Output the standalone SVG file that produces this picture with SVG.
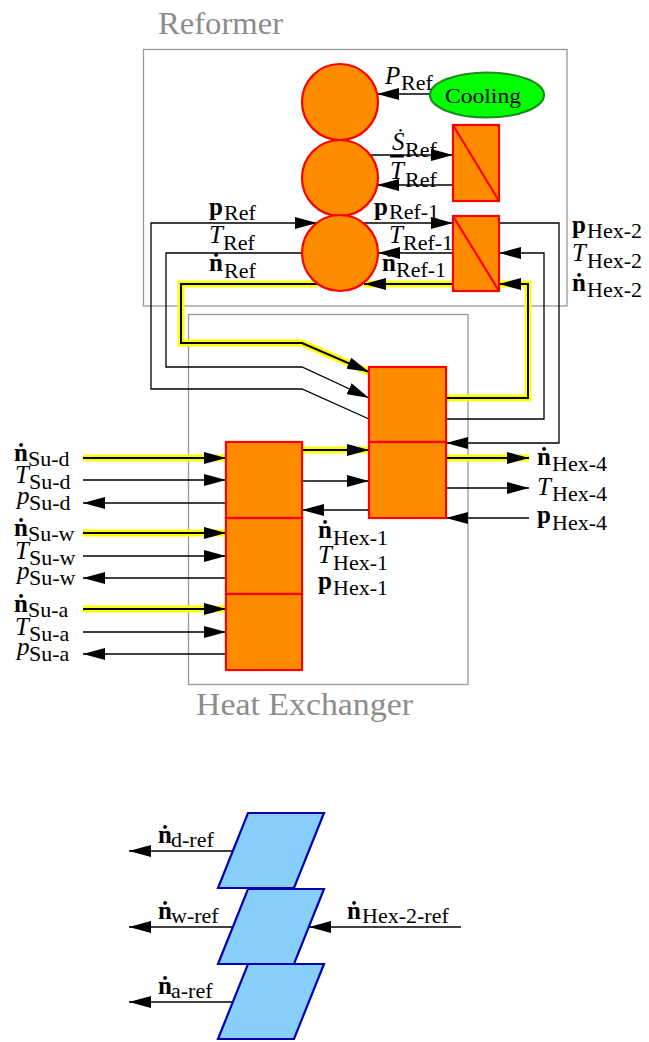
<svg xmlns="http://www.w3.org/2000/svg" width="649" height="1042" viewBox="0 0 649 1042">
<defs>
<marker id="ah" viewBox="0 0 22 12" markerWidth="22" markerHeight="12" refX="22" refY="6" orient="auto" markerUnits="userSpaceOnUse"><path d="M0,0 L22,6 L0,12 z" fill="#000"/></marker>
<style>
.frame{fill:none;stroke:#999;stroke-width:1.3}
.title{font-family:"Liberation Serif","DejaVu Serif",serif;font-size:31px;fill:#8c8c8c}
.ca{fill:none;stroke:#000;stroke-width:1.3;marker-end:url(#ah)}
.hl{fill:none;stroke:#ffff00;stroke-width:7}
.hb{fill:none;stroke:#000;stroke-width:2;marker-end:url(#ah)}
.orange{fill:#ff8c00;stroke:#ff0000;stroke-width:2.2}
.diag{stroke:#ff0000;stroke-width:2.2}
.cool{fill:#00ff00;stroke:#1e8c1e;stroke-width:2.2}
.blue{fill:#87cefa;stroke:#0000b4;stroke-width:2.2}
.t{font-family:"Liberation Serif","DejaVu Serif",serif;font-size:25px;fill:#000}
.i{font-style:italic}
.b{font-weight:bold}
.s{font-size:22px;font-style:normal;font-weight:normal}
</style>
</defs>
<rect width="649" height="1042" fill="#fff"/>
<g id="frames">
<rect class="frame" x="143.5" y="49.5" width="423.5" height="256.5"/>
<text class="title" x="158" y="34" textLength="125" lengthAdjust="spacingAndGlyphs">Reformer</text>
<rect class="frame" x="188.5" y="314.5" width="279.5" height="370"/>
<text class="title" x="196" y="715" textLength="217" lengthAdjust="spacingAndGlyphs">Heat Exchanger</text>
</g>
<g id="connectors">
<path class="hl" d="M318,284 L181,284 L181,343 L302,343 L369,372"/>
<path class="hl" d="M453,284 L364,284"/>
<path class="hl" d="M446,398 L528,398 L528,284 L499,284"/>
<path class="hl" d="M302,450 L369,450"/>
<path class="hl" d="M446,458 L529,458"/>
<path class="hl" d="M83,458 L226,458"/>
<path class="hl" d="M83,533 L226,533"/>
<path class="hl" d="M83,609 L226,609"/>
<path class="hb" d="M318,284 L181,284 L181,343 L302,343 L369,372"/>
<path class="hb" d="M453,284 L364,284"/>
<path class="hb" d="M446,398 L528,398 L528,284 L499,284"/>
<path class="hb" d="M302,450 L369,450"/>
<path class="hb" d="M446,458 L529,458"/>
<path class="hb" d="M83,458 L226,458"/>
<path class="hb" d="M83,533 L226,533"/>
<path class="hb" d="M83,609 L226,609"/>
<path class="ca" d="M430,94 L377,94"/>
<path class="ca" d="M340,155 L453,155"/>
<path class="ca" d="M453,185 L377,185"/>
<path class="ca" d="M340,223 L453,223"/>
<path class="ca" d="M453,253 L378,253"/>
<path class="ca" d="M369,419 L302,389 L151,389 L151,223 L317,223"/>
<path class="ca" d="M302,253 L166,253 L166,367 L302,367 L369,398"/>
<path class="ca" d="M499,223 L559,223 L559,443 L446,443"/>
<path class="ca" d="M446,419 L544,419 L544,253 L499,253"/>
<path class="ca" d="M302,481 L369,481"/>
<path class="ca" d="M369,510 L302,510"/>
<path class="ca" d="M446,488 L529,488"/>
<path class="ca" d="M529,518 L446,518"/>
<path class="ca" d="M83,480 L226,480"/>
<path class="ca" d="M226,503 L83,503"/>
<path class="ca" d="M83,556 L226,556"/>
<path class="ca" d="M226,578 L83,578"/>
<path class="ca" d="M83,632 L226,632"/>
<path class="ca" d="M226,654 L83,654"/>
<path class="ca" d="M233,851 L129,851"/>
<path class="ca" d="M233,927 L129,927"/>
<path class="ca" d="M233,1002 L129,1002"/>
<path class="ca" d="M461,927 L309,927"/>
</g>
<g id="ref-top"><circle class="orange" cx="340" cy="102" r="38"/></g>
<g id="ref-mid"><circle class="orange" cx="340" cy="178" r="38"/></g>
<g id="ref-bot"><circle class="orange" cx="340" cy="253" r="38"/></g>
<g id="cooling"><ellipse class="cool" cx="487" cy="95" rx="57" ry="22.5"/><text class="t" x="445" y="103" textLength="76" lengthAdjust="spacingAndGlyphs" style="font-size:22px">Cooling</text></g>
<g id="ref-hex-1"><rect class="orange" x="453" y="125" width="46" height="76"/><line class="diag" x1="453" y1="125" x2="499" y2="201"/></g>
<g id="ref-hex-2"><rect class="orange" x="453" y="216" width="46" height="75"/><line class="diag" x1="453" y1="216" x2="499" y2="291"/></g>
<g id="hex-r-top"><rect class="orange" x="369" y="367" width="77" height="75"/></g>
<g id="hex-r-bot"><rect class="orange" x="369" y="442" width="77" height="76"/></g>
<g id="hex-l-d"><rect class="orange" x="226" y="442" width="76" height="76"/></g>
<g id="hex-l-w"><rect class="orange" x="226" y="518" width="76" height="76"/></g>
<g id="hex-l-a"><rect class="orange" x="226" y="594" width="76" height="76"/></g>
<g id="mix-d"><polygon class="blue" points="248,813 324,813 294,888 218,888"/></g>
<g id="mix-w"><polygon class="blue" points="248,889 324,889 294,964 218,964"/></g>
<g id="mix-a"><polygon class="blue" points="248,964 324,964 294,1039 218,1039"/></g>
<g id="labels" class="t">
<text><tspan class="i" x="385" y="84">P</tspan><tspan class="s" x="401" y="90">Ref</tspan></text>
<text><tspan class="i" x="392" y="150">Ṡ</tspan><tspan class="s" x="405" y="157">Ref</tspan></text>
<text><tspan class="i" x="390" y="179" text-decoration="overline">T</tspan><tspan class="s" x="405" y="187">Ref</tspan></text>
<text><tspan class="b" x="374" y="215">p</tspan><tspan class="s" x="389" y="219">Ref-1</tspan></text>
<text><tspan class="i" x="389" y="243">T</tspan><tspan class="s" x="403" y="250">Ref-1</tspan></text>
<text><tspan class="b" x="382" y="271">ṅ</tspan><tspan class="s" x="396" y="277">Ref-1</tspan></text>
<text><tspan class="b" x="209" y="215">p</tspan><tspan class="s" x="224" y="220">Ref</tspan></text>
<text><tspan class="i" x="209" y="243">T</tspan><tspan class="s" x="223" y="250">Ref</tspan></text>
<text><tspan class="b" x="209" y="271">ṅ</tspan><tspan class="s" x="224" y="278">Ref</tspan></text>
<text><tspan class="b" x="572" y="233">p</tspan><tspan class="s" x="587" y="238">Hex-2</tspan></text>
<text><tspan class="i" x="572" y="261">T</tspan><tspan class="s" x="587" y="268">Hex-2</tspan></text>
<text><tspan class="b" x="572" y="291">ṅ</tspan><tspan class="s" x="587" y="297">Hex-2</tspan></text>
<text><tspan class="b" x="537" y="465">ṅ</tspan><tspan class="s" x="552" y="471">Hex-4</tspan></text>
<text><tspan class="i" x="537" y="495">T</tspan><tspan class="s" x="552" y="501">Hex-4</tspan></text>
<text><tspan class="b" x="537" y="523">p</tspan><tspan class="s" x="552" y="530">Hex-4</tspan></text>
<text><tspan class="b" x="318" y="538">ṅ</tspan><tspan class="s" x="333" y="545">Hex-1</tspan></text>
<text><tspan class="i" x="318" y="563">T</tspan><tspan class="s" x="333" y="570">Hex-1</tspan></text>
<text><tspan class="b" x="318" y="589">p</tspan><tspan class="s" x="333" y="595">Hex-1</tspan></text>
<text><tspan class="b" x="14" y="461">ṅ</tspan><tspan class="s" x="28" y="466">Su-d</tspan></text>
<text><tspan class="i" x="15" y="483">T</tspan><tspan class="s" x="29" y="489">Su-d</tspan></text>
<text><tspan class="i" x="17" y="504">p</tspan><tspan class="s" x="29" y="510">Su-d</tspan></text>
<text><tspan class="b" x="14" y="536">ṅ</tspan><tspan class="s" x="28" y="541">Su-w</tspan></text>
<text><tspan class="i" x="15" y="559">T</tspan><tspan class="s" x="29" y="565">Su-w</tspan></text>
<text><tspan class="i" x="17" y="579">p</tspan><tspan class="s" x="29" y="585">Su-w</tspan></text>
<text><tspan class="b" x="14" y="612">ṅ</tspan><tspan class="s" x="28" y="617">Su-a</tspan></text>
<text><tspan class="i" x="15" y="635">T</tspan><tspan class="s" x="29" y="641">Su-a</tspan></text>
<text><tspan class="i" x="17" y="655">p</tspan><tspan class="s" x="29" y="661">Su-a</tspan></text>
<text><tspan class="b" x="158" y="843">ṅ</tspan><tspan class="s" x="171" y="847">d-ref</tspan></text>
<text><tspan class="b" x="158" y="919">ṅ</tspan><tspan class="s" x="171" y="923">w-ref</tspan></text>
<text><tspan class="b" x="158" y="994">ṅ</tspan><tspan class="s" x="171" y="998">a-ref</tspan></text>
<text><tspan class="b" x="347" y="919">ṅ</tspan><tspan class="s" x="362" y="923">Hex-2-ref</tspan></text>
</g>
</svg>
